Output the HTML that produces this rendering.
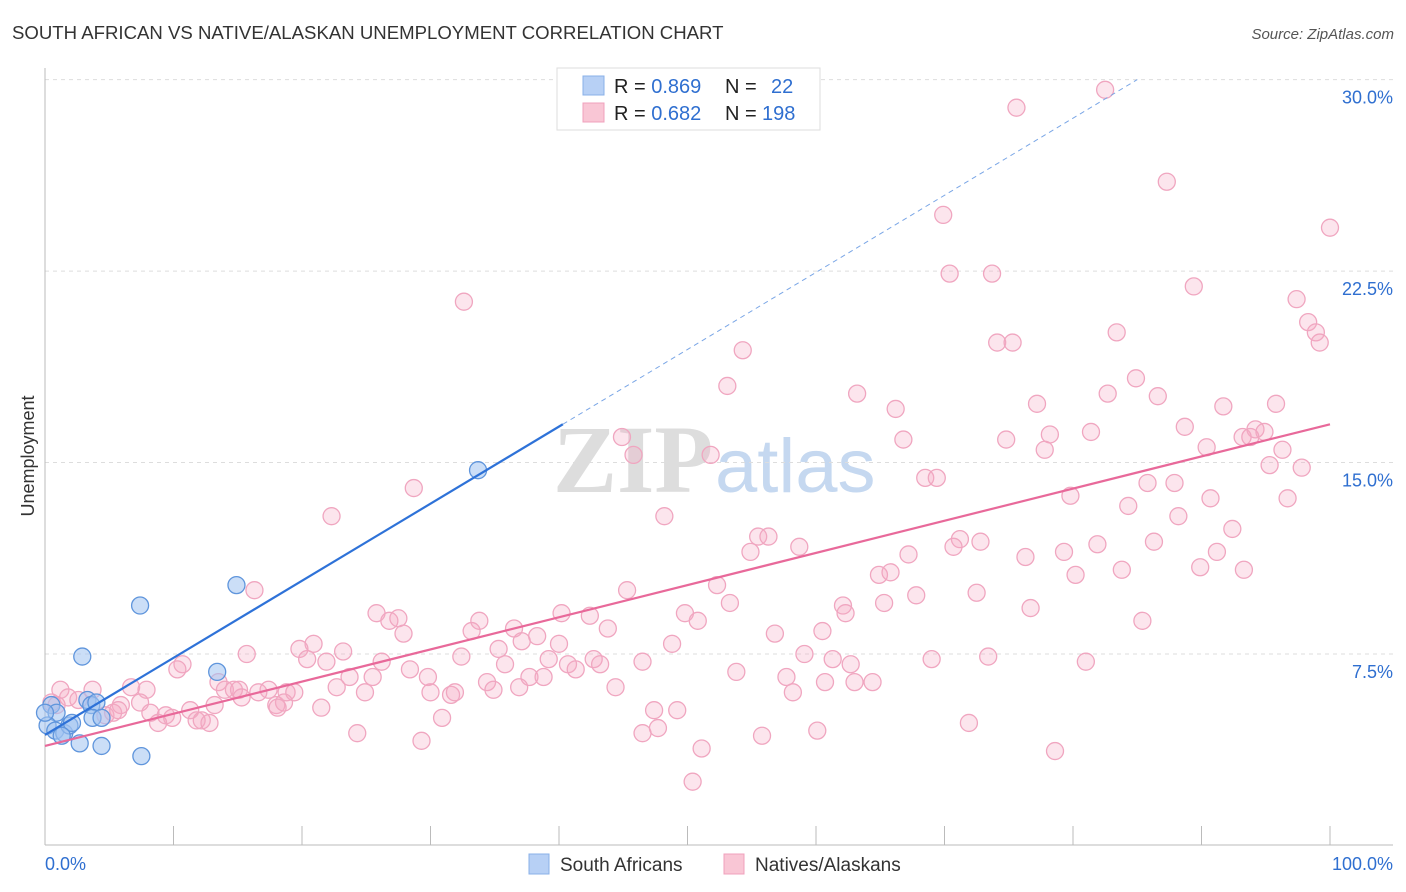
<!DOCTYPE html>
<html><head><meta charset="utf-8"><style>
body{margin:0;background:#fff;font-family:"Liberation Sans",sans-serif;}
svg{display:block}
</style></head><body>
<svg id="chart" width="1406" height="892">
<text x="12" y="39" font-size="18.6" fill="#333">SOUTH AFRICAN VS NATIVE/ALASKAN UNEMPLOYMENT CORRELATION CHART</text>
<text x="1394" y="39" font-size="15" fill="#555" font-style="italic" text-anchor="end">Source: ZipAtlas.com</text>
<text x="34" y="456" font-size="18" fill="#333" text-anchor="middle" transform="rotate(-90 34 456)">Unemployment</text>
<g><text x="553" y="492" font-size="96" font-family="Liberation Serif,serif" fill="#ddd" font-weight="bold">ZIP</text><text x="715" y="492" font-size="76" fill="#c5d8f0">atlas</text></g>
<g id="grid"></g><g id="axes"></g><g id="pink"></g><g id="blue"></g><g id="lines"></g>
<g>
<rect x="557" y="68" width="263" height="62" fill="#fff" stroke="#ddd"/>
<rect x="583" y="76" width="21" height="19" fill="#b7d0f5" stroke="#8ab0e8"/>
<rect x="583" y="103" width="21" height="19" fill="#f9c6d5" stroke="#f0a0bc"/>
<text x="614" y="93" font-size="20" fill="#222">R = <tspan fill="#2f6fd0">0.869</tspan></text>
<text x="725" y="93" font-size="20" fill="#222">N = <tspan fill="#2f6fd0" x="771">22</tspan></text>
<text x="614" y="120" font-size="20" fill="#222">R = <tspan fill="#2f6fd0">0.682</tspan></text>
<text x="725" y="120" font-size="20" fill="#222">N = <tspan fill="#2f6fd0" x="762">198</tspan></text>
</g>
<g>
<rect x="529" y="854" width="20" height="20" fill="#b7d0f5" stroke="#8ab0e8"/>
<text x="560" y="871" font-size="19" fill="#333">South Africans</text>
<rect x="724" y="854" width="20" height="20" fill="#f9c6d5" stroke="#f0a0bc"/>
<text x="755" y="871" font-size="19" fill="#333">Natives/Alaskans</text>
</g>
</svg>
<script>
const yTicks=[7.5,15,22.5,30];
const yTickLabels=["7.5%","15.0%","22.5%","30.0%"];
const xTickLabels=["0.0%","100.0%"];
const pinkX=[82.5,75.6,87.3,69.9,100,70.4,73.7,32.6,89.4,97.4,98.3,98.9,99.2,83.4,74.1,75.3,54.3,53.1,84.9,63.2,82.7,86.6,77.2,91.7,95.8,66.2,88.7,81.4,78.2,94.2,94.9,93.2,93.8,44.9,66.8,74.8,90.4,96.3,77.8,45.8,51.8,95.3,97.8,68.5,69.4,85.8,87.9,28.7,79.8,90.7,96.7,84.3,22.3,48.2,88.2,92.4,55.5,56.3,71.2,72.8,86.3,81.9,58.7,54.9,70.7,79.3,67.2,91.2,76.3,83.8,89.9,93.3,64.9,65.8,80.2,52.3,45.3,16.3,72.5,67.8,53.3,62.1,65.3,76.7,25.8,40.2,42.4,49.8,62.3,26.8,27.5,33.8,50.8,85.4,36.5,43.8,27.9,33.2,38.3,56.8,60.5,20.9,37.1,40.0,48.8,19.8,23.2,15.7,32.4,35.3,39.2,42.7,59.1,61.3,69.0,73.4,81.0,10.7,10.3,20.4,21.9,26.2,28.4,35.8,40.7,41.3,43.2,46.5,62.7,53.8,57.7,23.7,25.5,29.8,34.4,37.7,38.8,63.0,64.4,60.7,58.2,13.5,17.4,18.8,22.7,24.9,30.0,31.6,31.9,34.9,36.9,44.4,14.0,14.7,15.1,16.6,15.3,19.4,6.7,7.9,1.2,1.8,3.7,2.6,0.5,0.9,7.4,5.9,5.3,4.7,5.7,8.2,9.4,9.9,8.8,11.3,11.8,12.2,12.8,13.2,18.0,18.6,18.1,21.5,30.9,47.4,49.2,47.7,46.5,24.3,29.3,55.8,60.1,71.9,51.1,78.6,50.4];
const pinkY=[29.6,28.9,26.0,24.7,24.2,22.4,22.4,21.3,21.9,21.4,20.5,20.1,19.7,20.1,19.7,19.7,19.4,18.0,18.3,17.7,17.7,17.6,17.3,17.2,17.3,17.1,16.4,16.2,16.1,16.3,16.2,16.0,16.0,16.0,15.9,15.9,15.6,15.5,15.5,15.3,15.3,14.9,14.8,14.4,14.4,14.2,14.2,14.0,13.7,13.6,13.6,13.3,12.9,12.9,12.9,12.4,12.1,12.1,12.0,11.9,11.9,11.8,11.7,11.5,11.7,11.5,11.4,11.5,11.3,10.8,10.9,10.8,10.6,10.7,10.6,10.2,10.0,10.0,9.9,9.8,9.5,9.4,9.5,9.3,9.1,9.1,9.0,9.1,9.1,8.8,8.9,8.8,8.8,8.8,8.5,8.5,8.3,8.4,8.2,8.3,8.4,7.9,8.0,7.9,7.9,7.7,7.6,7.5,7.4,7.7,7.3,7.3,7.5,7.3,7.3,7.4,7.2,7.1,6.9,7.3,7.2,7.2,6.9,7.1,7.1,6.9,7.1,7.2,7.1,6.8,6.6,6.6,6.6,6.6,6.4,6.6,6.6,6.4,6.4,6.4,6.0,6.4,6.1,6.0,6.2,6.0,6.0,5.9,6.0,6.1,6.2,6.2,6.1,6.1,6.1,6.0,5.8,6.0,6.2,6.1,6.1,5.8,6.1,5.7,5.6,5.5,5.6,5.5,5.2,5.1,5.3,5.2,5.1,5.0,4.8,5.3,4.9,4.9,4.8,5.5,5.5,5.6,5.4,5.4,5.0,5.3,5.3,4.6,4.4,4.4,4.1,4.3,4.5,4.8,3.8,3.7,2.5];
const blueX=[0.5,0.9,0.2,0.8,1.5,1.9,2.1,3.3,3.6,4.0,3.7,4.4,2.7,4.4,2.9,7.4,14.9,13.4,7.5,33.7,1.3,0];
const blueY=[5.5,5.2,4.7,4.5,4.4,4.7,4.8,5.7,5.5,5.6,5.0,5.0,4.0,3.9,7.4,9.4,10.2,6.8,3.5,14.7,4.3,5.2];
const blueTrend=[4.33,16.5,40.3];
const pinkTrend=[3.9,16.5];
const NS="http://www.w3.org/2000/svg";
const X=v=>45+v*12.85, Y=v=>845.5-v*25.53;
function mk(tag,attrs,parent){const e=document.createElementNS(NS,tag);for(const k in attrs)e.setAttribute(k,attrs[k]);document.getElementById(parent).appendChild(e);return e;}
yTicks.forEach((t,i)=>{
 const g=mk('line',{x1:45,x2:1393,y1:Y(t),y2:Y(t),stroke:'#ddd','stroke-dasharray':'4,4'},'grid');
 
 
 const l=mk('text',{x:1393,y:Y(t)+24,'font-size':18,fill:'#2f6fd0','text-anchor':'end'},'axes');l.textContent=yTickLabels[i];
 
 
});
mk('line',{x1:45,x2:45,y1:68,y2:845,stroke:'#bbb'},'axes');
mk('line',{x1:45,x2:1393,y1:845,y2:845,stroke:'#bbb'},'axes');
for(let i=0;i<=10;i++){const t=mk('line',{x1:X(i*10),x2:X(i*10),y1:826,y2:845,stroke:'#bbb'},'axes');
 
 }
[[0,'start',45],[1,'end',1393]].forEach(([i,a,x])=>{const l=mk('text',{x:x,y:870,'font-size':18,fill:'#2f6fd0','text-anchor':a},'axes');l.textContent=xTickLabels[i];
 
 });
pinkX.forEach((v,i)=>{const c=mk('circle',{cx:X(v),cy:Y(pinkY[i]),r:8.5,fill:'rgba(246,168,196,0.3)',stroke:'#f0a6c0','stroke-width':1.3},'pink');
 
 });
blueX.forEach((v,i)=>{const c=mk('circle',{cx:X(v),cy:Y(blueY[i]),r:8.5,fill:'rgba(160,195,240,0.55)',stroke:'#5f95dc','stroke-width':1.3},'blue');
 
 });
const slope=(blueTrend[1]-blueTrend[0])/blueTrend[2];
const yTop=30.0;
const xEnd=(yTop-blueTrend[0])/slope;
const b1=mk('line',{x1:X(0),y1:Y(blueTrend[0]),x2:X(blueTrend[2]),y2:Y(blueTrend[1]),stroke:'#2e72d8','stroke-width':2.2},'lines');


const b2=mk('line',{x1:X(blueTrend[2]),y1:Y(blueTrend[1]),x2:X(xEnd),y2:Y(yTop),stroke:'#7aa6e6','stroke-width':1,'stroke-dasharray':'5,4'},'lines');


const p1=mk('line',{x1:X(0),y1:Y(pinkTrend[0]),x2:X(100),y2:Y(pinkTrend[1]),stroke:'#e8699a','stroke-width':2.2},'lines');


</script>
</body></html>
